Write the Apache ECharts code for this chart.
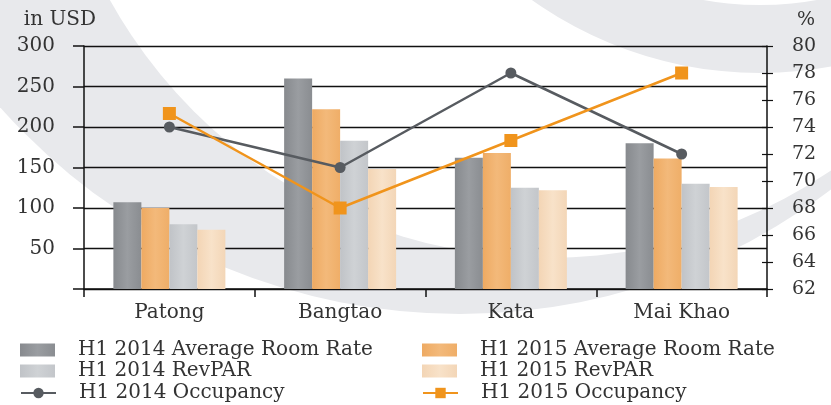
<!DOCTYPE html>
<html lang="en">
<head>
  <meta charset="UTF-8">
  <title>Phuket hotels H1 2014 vs H1 2015</title>
  <style>
    html, body { margin: 0; padding: 0; background: #fff; }
  </style>
</head>
<body>
  <div id="main" style="width: 831px; height: 405px"></div>

  <script src="https://cdn.jsdelivr.net/npm/echarts@6/dist/echarts.min.js"></script>
  <script>
    var areas = ['Patong', 'Bangtao', 'Kata', 'Mai Khao'];

    // in USD
    var arr2014 = [107, 260, 162, 180];
    var arr2015 = [100, 222, 168, 161];
    var revpar2014 = [80, 183, 125, 130];
    var revpar2015 = [73, 148, 122, 126];

    // %
    var occ2014 = [74, 71, 78, 72];
    var occ2015 = [75, 68, 73, 78];

    var font = 'DejaVu Serif';
    var textColor = '#333';
    var swoosh = '#e8e9ec';

    function shade(a, b, c) {
      return {
        type: 'linear', x: 0, y: 0, x2: 1, y2: 0,
        colorStops: [{ offset: 0, color: a }, { offset: 0.5, color: b }, { offset: 1, color: c }]
      };
    }

    // one legend per entry so the two columns of three rows stay put
    function legendItem(left, centerY, name, icon) {
      var item = { name: name };
      if (icon) item.icon = icon;
      return {
        left: left, top: centerY - 11, padding: 0, itemWidth: 35, itemHeight: 13,
        data: [item],
        textStyle: { fontFamily: font, fontSize: 20, color: textColor, padding: [0, 0, 0, 18] }
      };
    }

    var myChart = echarts.init(document.getElementById('main'));

    var option = {
      animation: false,
      backgroundColor: '#fff',
      // grey swoosh behind the chart
      graphic: [
        { type: 'circle', z: -10, shape: { cx: 460, cy: -301, r: 615 }, style: { fill: swoosh } },
        { type: 'circle', z: -9, shape: { cx: 548, cy: -243, r: 501 }, style: { fill: '#fff' } },
        { type: 'ring', z: -8, shape: { cx: 760, cy: -320, r: 393, r0: 325 }, style: { fill: swoosh } }
      ],
      grid: { left: 84, right: 64, top: 46, bottom: 116 },
      legend: [
        legendItem(20, 351, 'H1 2014 Average Room Rate', 'rect'),
        legendItem(20, 372, 'H1 2014 RevPAR', 'rect'),
        legendItem(20, 394, 'H1 2014 Occupancy'),
        legendItem(422, 351, 'H1 2015 Average Room Rate', 'rect'),
        legendItem(422, 372, 'H1 2015 RevPAR', 'rect'),
        legendItem(422, 394, 'H1 2015 Occupancy')
      ],
      xAxis: {
        type: 'category',
        data: areas,
        axisLine: { lineStyle: { color: '#111', width: 1.5 } },
        axisTick: { show: true, length: 8, lineStyle: { color: '#111', width: 1.5 } },
        axisLabel: { fontFamily: font, fontSize: 20, color: textColor, margin: 14 }
      },
      yAxis: [
        {
          type: 'value', min: 0, max: 300, interval: 50,
          name: 'in USD', nameLocation: 'end', nameGap: 16,
          nameTextStyle: { fontFamily: font, fontSize: 20, color: textColor, align: 'right', padding: [0, -12, 0, 0] },
          axisLine: { show: true, lineStyle: { color: '#111', width: 1.5 } },
          axisTick: { show: true, length: 11, lineStyle: { color: '#111', width: 1.5 } },
          splitLine: { lineStyle: { color: '#111', width: 1.3 } },
          axisLabel: {
            fontFamily: font, fontSize: 20, color: textColor, margin: 29,
            formatter: function (v) { return v === 0 ? '' : v; }
          }
        },
        {
          type: 'value', min: 62, max: 80, interval: 2, position: 'right',
          name: '%', nameLocation: 'end', nameGap: 16,
          nameTextStyle: { fontFamily: font, fontSize: 19, color: textColor, align: 'left', padding: [0, 0, 0, 30] },
          axisLine: { show: true, lineStyle: { color: '#111', width: 1.5 } },
          axisTick: { show: true, length: 6, lineStyle: { color: '#111', width: 1.2 } },
          splitLine: { show: false },
          axisLabel: { fontFamily: font, fontSize: 19, color: textColor, margin: 25 }
        },
        {
          // inner half of the right-hand ticks
          type: 'value', min: 62, max: 80, interval: 2, position: 'right',
          axisLine: { show: false },
          axisTick: { show: true, inside: true, length: 5, lineStyle: { color: '#111', width: 1.2 } },
          splitLine: { show: false },
          axisLabel: { show: false }
        }
      ],
      series: [
        {
          name: 'H1 2014 Average Room Rate', type: 'bar', barWidth: 28, barGap: '0%',
          data: arr2014, itemStyle: { color: shade('#878a8e', '#9a9da1', '#8a8d91') }
        },
        {
          name: 'H1 2015 Average Room Rate', type: 'bar', barWidth: 28, barGap: '0%',
          data: arr2015, itemStyle: { color: shade('#eeaa62', '#f3b97a', '#efae68') }
        },
        {
          name: 'H1 2014 RevPAR', type: 'bar', barWidth: 28, barGap: '0%',
          data: revpar2014, itemStyle: { color: shade('#c0c3c7', '#cfd2d5', '#c3c6ca') }
        },
        {
          name: 'H1 2015 RevPAR', type: 'bar', barWidth: 28, barGap: '0%',
          data: revpar2015, itemStyle: { color: shade('#f3d5b5', '#f8e2c9', '#f3d6b7') }
        },
        {
          name: 'H1 2014 Occupancy', type: 'line', yAxisIndex: 1, data: occ2014,
          symbol: 'circle', symbolSize: 11,
          lineStyle: { color: '#575b60', width: 2.5 },
          itemStyle: { color: '#575b60' }
        },
        {
          name: 'H1 2015 Occupancy', type: 'line', yAxisIndex: 1, data: occ2015,
          symbol: 'rect', symbolSize: 13,
          lineStyle: { color: '#f0941c', width: 2.5 },
          itemStyle: { color: '#f0941c' }
        }
      ]
    };

    myChart.setOption(option);
  </script>
</body>
</html>
